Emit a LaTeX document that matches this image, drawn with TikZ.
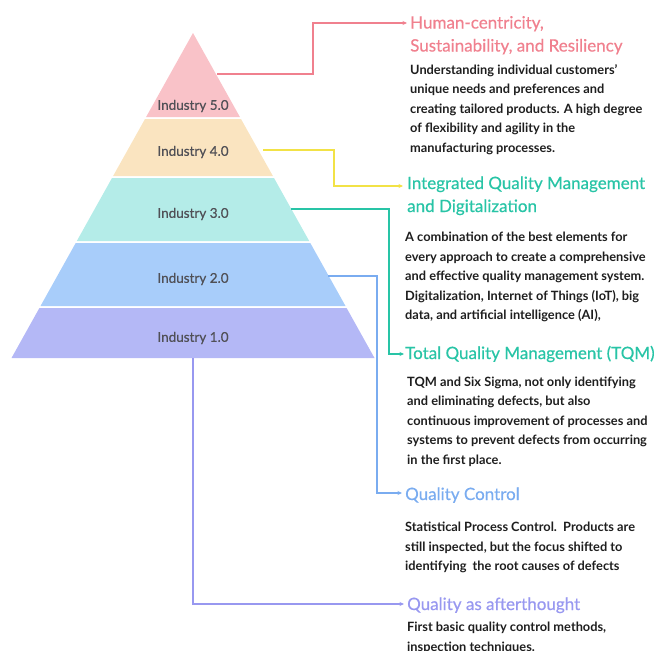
\documentclass[tikz,border=0pt]{standalone}
\usepackage{fontspec}
\setmainfont{Lato}
\newfontfamily\headfont{Lato}[FakeBold=0.5]
\usetikzlibrary{arrows.meta}
\definecolor{pinkfill}{RGB}{249,194,200}
\definecolor{pinkline}{RGB}{240,128,142}
\definecolor{peachfill}{RGB}{250,228,192}
\definecolor{yellowline}{RGB}{242,226,70}
\definecolor{tealfill}{RGB}{180,236,232}
\definecolor{tealline}{RGB}{40,196,166}
\definecolor{bluefill}{RGB}{168,205,250}
\definecolor{blueline}{RGB}{122,172,240}
\definecolor{purplefill}{RGB}{180,184,246}
\definecolor{purpleline}{RGB}{152,152,240}
\definecolor{labelgray}{RGB}{80,80,86}
\definecolor{bodygray}{RGB}{30,30,30}
\begin{document}
\begin{tikzpicture}[x=1pt,y=-1pt,
  lbl/.style={inner sep=0, text=labelgray, font=\headfont\fontsize{13.5}{16}\selectfont},
  head/.style={anchor=base west, inner sep=0, align=left, font=\headfont\fontsize{17}{23}\selectfont},
  body/.style={anchor=base west, inner sep=0, align=left, text=bodygray, font=\bfseries\fontsize{12.8}{19.5}\selectfont},
  conn/.style={line width=1.2pt, -{Stealth[length=4.5pt,width=4pt]}}]
\useasboundingbox (0,0) rectangle (662,651);
% pyramid layers
\fill[pinkfill]   (193,33) -- (239.9,117) -- (146.1,117) -- cycle;
\fill[peachfill]  (145,119) -- (241,119) -- (272.9,176) -- (113.1,176) -- cycle;
\fill[tealfill]   (112,178) -- (274,178) -- (309.2,241) -- (76.8,241) -- cycle;
\fill[bluefill]   (75.7,243) -- (310.3,243) -- (345.5,306) -- (40.5,306) -- cycle;
\fill[purplefill] (39.4,308) -- (346.6,308) -- (374.5,358) -- (11.5,358) -- cycle;
\node[lbl] (i5) at (193,106) {Industry 5.0};
\node[lbl] (i4) at (193,152) {Industry 4.0};
\node[lbl] (i3) at (193,214) {Industry 3.0};
\node[lbl] (i2) at (193,279) {Industry 2.0};
\node[lbl] (i1) at (193,338) {Industry 1.0};
% start points of connectors
\coordinate (s5) at (217,74);
\coordinate (s4) at (263,150);
\coordinate (s3) at (291,209);
\coordinate (s2) at (328,276);
\coordinate (s1) at (193,358);
% headings (anchored at the baseline of their last line)
\node[head, text=pinkline] (h5) at (410,51.5) {Human-centricity,\\Sustainability, and Resiliency};
\node[head, text=tealline] (h4) at (407,212) {Integrated Quality Management\\and Digitalization};
\node[head, text=tealline] (h3) at (405,359) {Total Quality Management (TQM)};
\node[head, text=blueline] (h2) at (405,500) {Quality Control};
\node[head, text=purpleline] (h1) at (407,610) {Quality as afterthought};
% arrow tips
\coordinate (t5) at (407,23);
\coordinate (t4) at (403,186);
\coordinate (t3) at (404,354);
\coordinate (t2) at (402,493);
\coordinate (t1) at (404,604);
% bodies (anchored at the baseline of their last line)
\node[body] (b5) at (410,152) {Understanding individual customers'\\unique needs and preferences and\\creating tailored products. A high degree\\of flexibility and agility in the\\manufacturing processes.};
\node[body] (b4) at (405,319.5) {A combination of the best elements for\\every approach to create a comprehensive\\and effective quality management system.\\Digitalization, Internet of Things (IoT), big\\data, and artificial intelligence (AI),};
\node[body] (b3) at (407,464) {TQM and Six Sigma, not only identifying\\and eliminating defects, but also\\continuous improvement of processes and\\systems to prevent defects from occurring\\in the first place.};
\node[body] (b2) at (405,570.5) {Statistical Process Control.\ \ Products are\\still inspected, but the focus shifted to\\identifying\ \ the root causes of defects};
\node[body] (b1) at (407,651) {First basic quality control methods,\\inspection techniques.};
% connectors
\draw[conn, pinkline]   (s5) -- (313,74) -- (313,23) -- (t5);
\draw[conn, yellowline] (s4) -- (334,150) -- (334,186) -- (t4);
\draw[conn, tealline]   (s3) -- (389,209) -- (389,354) -- (t3);
\draw[conn, blueline]   (s2) -- (377,276) -- (377,493) -- (t2);
\draw[conn, purpleline] (s1) -- (193,604) -- (t1);
\end{tikzpicture}
\end{document}
